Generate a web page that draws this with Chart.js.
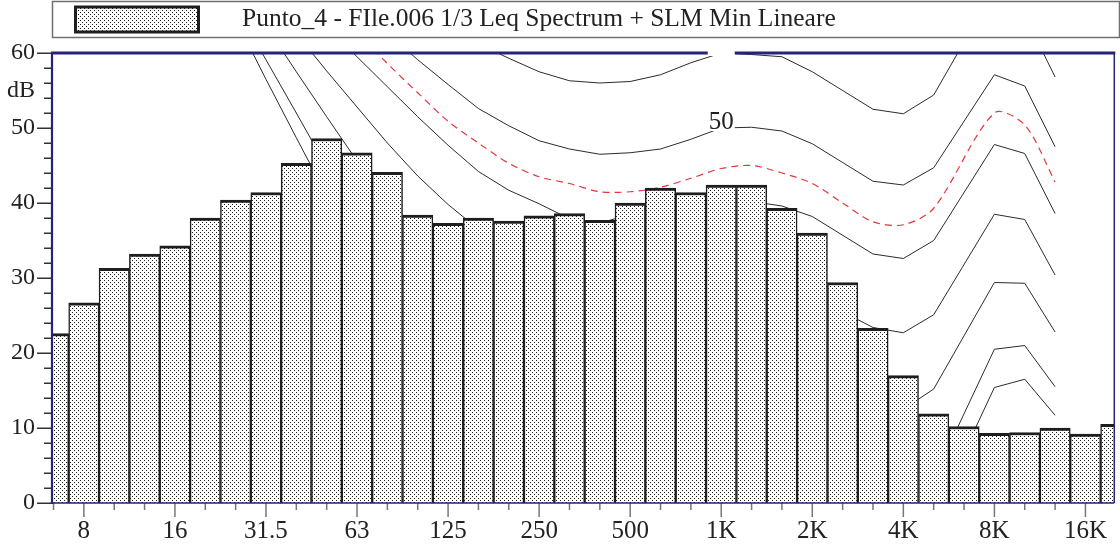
<!DOCTYPE html>
<html><head><meta charset="utf-8">
<script src="https://cdn.jsdelivr.net/npm/chart.js@4.4.1/dist/chart.umd.min.js"></script>
<style>html,body{margin:0;padding:0;background:#fff;}canvas{display:block;}</style>
</head><body>
<canvas id="c" width="1120" height="552"></canvas>
<script>
// ---- data ----
const bands = ['6.3','8','10','12.5','16','20','25','31.5','40','50','63','80','100','125','160','200','250','315','400','500','630','800','1K','1.25K','1.6K','2K','2.5K','3.15K','4K','5K','6.3K','8K','10K','12.5K','16K','20K'];
const tickLabels = ['8','16','31.5','63','125','250','500','1K','2K','4K','8K','16K'];
const yTickValues = [0,10,20,30,40,50,60];
const yUnit = 'dB';
const yUnitAt = 55;
const legendText = 'Punto_4 - FIle.006 1/3 Leq Spectrum + SLM Min Lineare';
const leq = [22.6,26.7,31.3,33.2,34.3,38.0,40.4,41.4,45.3,48.6,46.7,44.1,38.4,37.3,38.0,37.6,38.3,38.6,37.7,40.0,42.0,41.4,42.4,42.4,39.3,36.0,29.4,23.3,17.0,11.9,10.2,9.3,9.4,10.0,9.2,10.5];
const curveThr = [null,null,null,null,null,null,64.5,56.5,48.7,41,34,28,23,18,14,11,8.5,6.5,5,4,3.5,3.5,3.5,3.5,2.5,0,-2,-4,-4,-1.9,null,15.4,16.5,11.7,null,null];
const curve10 = [null,null,null,null,null,null,66.3,59.1,52.0,44.8,38,32,27,22,18.5,15.5,13.5,12,11,10.5,10,10,10,10.5,10.5,9,6.5,3.5,3,3.3,null,20.5,21.0,15.5,null,null];
const curve20 = [null,null,null,null,null,null,null,63.6,57.5,51.5,45.6,40,35,31,28,25.5,23.5,22,21,20.5,20,20,20,20.5,20.5,19,16,13.5,12.5,15.2,null,29.4,29.3,22.8,null,null];
const curve30 = [null,null,null,null,null,null,null,null,62.6,57.6,52.8,48.0,43.6,39.8,36.5,34.5,33.2,32.2,31.5,30.8,30.3,30,30,30.5,30,28,25.5,23.4,22.7,25.1,null,38.5,37.8,30.4,null,null];
const curve40 = [null,null,null,null,null,null,null,null,null,63.5,59.5,55.5,51.5,47.7,44.2,41.7,39.9,37.9,37.3,38.5,39.5,40,40,40.2,39.6,38.2,null,33.2,32.6,35.0,null,47.8,46.6,38.6,null,null];
const curveLoud = [null,null,null,null,null,null,null,null,null,null,62.8,58.6,54.7,50.9,48.0,45.3,43.5,42.6,41.5,41.5,42.1,43.3,44.6,45.0,44.0,42.6,40.0,37.5,37.1,39.3,null,52.0,50.4,42.8,null,null];
const curve50 = [null,null,null,null,null,null,null,null,null,null,null,62.7,59.1,55.8,52.6,50.3,48.3,47.2,46.5,46.7,47.2,48.5,50.0,50.1,49.6,47.9,null,42.9,42.4,44.7,null,57.1,55.6,47.5,null,null];
const curve60 = [null,null,null,null,null,null,null,null,null,null,null,null,null,64,61.2,59.3,57.5,56.3,56.0,56.2,57.1,58.7,60.0,59.8,59.5,57.5,null,52.5,51.9,54.4,null,68.5,65.0,56.8,null,null];
const contourLabels = ['50','60'];
const contourLabelBand = '1K';

// ---- drawing ----
const FONT = '"Liberation Serif", "Times New Roman", serif';
const canvas = document.getElementById('c');
const mainCtx = canvas.getContext('2d');
const pat = (() => {
  const c = document.createElement('canvas'); c.width = 4; c.height = 4;
  const x = c.getContext('2d');
  x.fillStyle = '#fff'; x.fillRect(0,0,4,4);
  x.fillStyle = '#1a1a1a'; x.fillRect(0,0,1,1); x.fillRect(2,2,1,1);
  return mainCtx.createPattern(c, 'repeat');
})();

const blackCurves = [curveThr, curve10, curve20, curve30, curve40, curve50, curve60];
const lineSets = blackCurves.map(vals => ({
  type: 'line', data: vals.map((v,i)=>({x:i, y:v})), borderColor: '#2b2b2b', borderWidth: 1,
  pointRadius: 0, spanGaps: true, tension: 0, fill: false, order: 1, clip: 0
}));
lineSets.push({
  type: 'line', data: curveLoud.map((v,i)=>({x:i, y:v})), borderColor: '#e8353a', borderWidth: 1.2,
  borderDash: [7,5], pointRadius: 0, spanGaps: true, tension: 0.3, fill: false, order: 1, clip: 0
});

const deco = {
  id: 'deco',
  beforeDraw(chart) {
    const ctx = chart.ctx;
    ctx.save();
    ctx.fillStyle = '#fff'; ctx.fillRect(0,0,chart.width,chart.height);
    ctx.strokeStyle = '#707070'; ctx.lineWidth = 1.5;
    ctx.strokeRect(52.5, 1.5, 1067, 36);
    ctx.fillStyle = pat; ctx.fillRect(75, 7, 124, 25);
    ctx.strokeStyle = '#1e1e1e'; ctx.lineWidth = 3;
    ctx.strokeRect(75.5, 7, 123, 25);
    ctx.fillStyle = '#222'; ctx.font = '25.5px ' + FONT; ctx.textBaseline = 'alphabetic'; ctx.textAlign = 'left';
    ctx.fillText(legendText, 242, 26);
    ctx.restore();
  },
  afterDatasetsDraw(chart) {
    const {ctx, chartArea: a, scales: {x, y}} = chart;
    ctx.save();
    // tick marks
    ctx.strokeStyle = '#333'; ctx.lineWidth = 1.5;
    ctx.beginPath();
    for (let v = 0; v <= 60; v += 2) {
      const py = Math.round(y.getPixelForValue(v)) + 0.25;
      const len = v % 10 === 0 ? 15 : 8;
      ctx.moveTo(a.left - len, py); ctx.lineTo(a.left, py);
    }
    ctx.stroke();
    ctx.strokeStyle = '#777'; ctx.lineWidth = 1.5;
    ctx.beginPath();
    for (let i = 0; i < bands.length; i++) {
      const px = x.getPixelForValue(i);
      if (px < a.left - 1 || px > a.right + 1) continue;
      const len = tickLabels.includes(bands[i]) ? 14 : 7;
      ctx.moveTo(px, a.bottom); ctx.lineTo(px, a.bottom + len);
    }
    ctx.stroke();
    // plot frame
    ctx.strokeStyle = '#24247a';
    ctx.lineWidth = 1.5;
    ctx.beginPath(); ctx.moveTo(a.left, a.bottom); ctx.lineTo(a.right, a.bottom); ctx.stroke();
    ctx.beginPath(); ctx.moveTo(a.right, a.top); ctx.lineTo(a.right, a.bottom); ctx.stroke();
    ctx.lineWidth = 2.2;
    ctx.beginPath(); ctx.moveTo(a.left, a.top); ctx.lineTo(a.left, a.bottom + 1); ctx.stroke();
    ctx.lineWidth = 3;
    ctx.beginPath(); ctx.moveTo(a.left - 1, a.top); ctx.lineTo(a.right + 1, a.top); ctx.stroke();
    // contour labels at 1 kHz
    const bi = bands.indexOf(contourLabelBand);
    const labelCurves = {'50': curve50, '60': curve60};
    ctx.font = '25px ' + FONT;
    contourLabels.forEach(t => {
      const px = x.getPixelForValue(bi);
      const py = y.getPixelForValue(labelCurves[t][bi]);
      const w = ctx.measureText(t).width;
      ctx.save();
      ctx.beginPath(); ctx.rect(a.left, a.top - 3, a.right - a.left, a.bottom - a.top + 3); ctx.clip();
      ctx.fillStyle = '#fff';
      ctx.fillRect(px - w/2 - 1, py - 22, w + 2, 25);
      ctx.restore();
      ctx.save();
      ctx.beginPath(); ctx.rect(a.left, a.top + 2, a.right - a.left, a.bottom - a.top); ctx.clip();
      ctx.fillStyle = '#222'; ctx.textAlign = 'center'; ctx.textBaseline = 'alphabetic';
      ctx.fillText(t, px, py + 1);
      ctx.restore();
    });
    ctx.restore();
  }
};

new Chart(mainCtx, {
  type: 'bar',
  data: {
    datasets: [
      { type: 'bar', label: legendText, data: leq.map((v,i)=>({x:i, y:v})),
        backgroundColor: pat, borderColor: '#1e1e1e',
        borderWidth: {top: 3, left: 1.5, right: 1.5, bottom: 0},
        barPercentage: 1, categoryPercentage: 1, order: 0, clip: 0 },
      ...lineSets
    ]
  },
  options: {
    responsive: false, animation: false, devicePixelRatio: 1,
    layout: {padding: {top: 53, right: 1, left: 0, bottom: 0}},
    plugins: {legend: {display: false}, tooltip: {enabled: false}},
    scales: {
      x: {
        type: 'linear', min: -0.05, max: 34.95, offset: false,
        grid: {display: false, drawTicks: false}, border: {display: false},
        afterBuildTicks: s => { s.ticks = bands.slice(0, 35).map((b,i)=>({value: i})); },
        afterFit: s => { s.height = 49; },
        ticks: {autoSkip: false, maxRotation: 0, minRotation: 0, padding: 13, color: '#222',
          font: {family: FONT, size: 25},
          callback: v => tickLabels.includes(bands[v]) ? bands[v] : ''}
      },
      y: {
        min: 0, max: 60,
        grid: {display: false, drawTicks: false}, border: {display: false},
        afterBuildTicks: s => { s.ticks = yTickValues.concat([yUnitAt]).sort((p,q)=>p-q).map(v=>({value: v})); },
        afterFit: s => { s.width = 52; },
        ticks: {autoSkip: false, padding: 17, color: '#222', font: {family: FONT, size: 24},
          callback: v => v === yUnitAt ? yUnit : String(v)}
      }
    }
  },
  plugins: [deco]
});
</script>
</body></html>
